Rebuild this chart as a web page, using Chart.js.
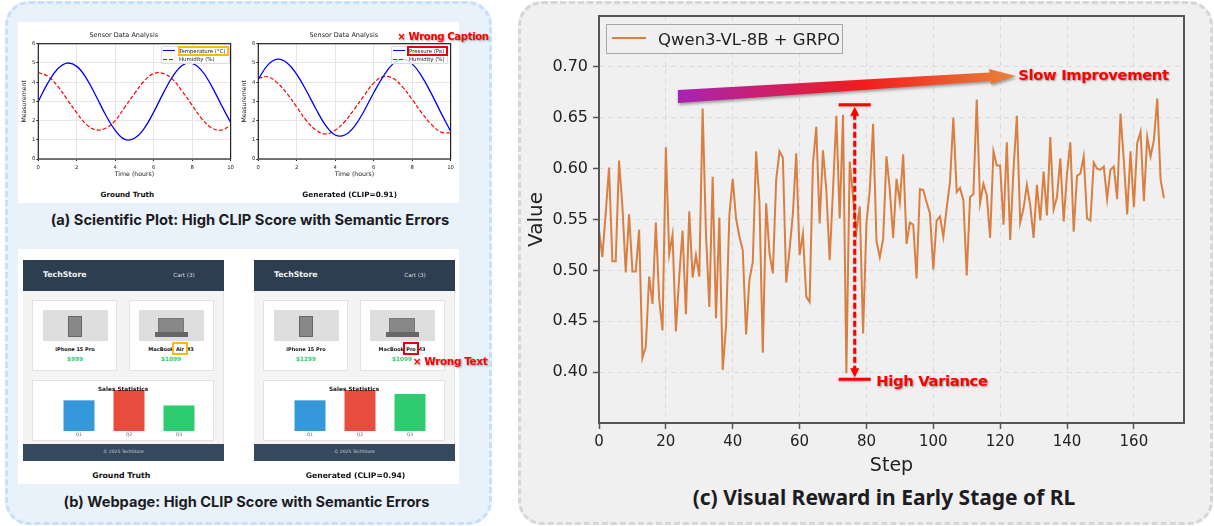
<!DOCTYPE html>
<html>
<head>
<meta charset="utf-8">
<title>Visual reward figure</title>
<script src="https://cdn.jsdelivr.net/npm/chart.js@4/dist/chart.umd.min.js"></script>
<style>
  html, body { margin: 0; padding: 0; background: #fff; }
  #page { position: relative; width: 1214px; height: 526px; overflow: hidden; font-family: "DejaVu Sans", sans-serif; }
  #page div { position: absolute; box-sizing: border-box; white-space: nowrap; }
  canvas { position: absolute; }
  .panel { border-radius: 24px; border-width: 3px; border-style: dashed; }
  .call { color: #f00; font-family: "DejaVu Sans", sans-serif; font-weight: 700; text-shadow: 1px 1px 2px rgba(0,0,0,.4); }
</style>
</head>
<body>
<div id="page"></div>
<script>
// panel (c)
const rewardValues = [
  .540,.513,.556,.601,.509,.509,.608,.563,.498,.555,.499,.499,.540,.414,.425,.494,.467,.547,.472,.441,
  .621,.516,.535,.440,.494,.539,.457,.558,.493,.515,.494,.659,.536,.464,.592,.453,.552,.402,.445,.554,
  .590,.551,.533,.520,.437,.491,.508,.617,.567,.419,.566,.517,.497,.589,.617,.611,.488,.520,.556,.615,
  .515,.536,.474,.469,.605,.641,.546,.618,.579,.510,.579,.652,.551,.653,.399,.607,.572,.538,.563,.438,
  .546,.579,.644,.529,.513,.531,.612,.579,.532,.590,.567,.614,.526,.547,.545,.492,.580,.579,.567,.556,
  .501,.549,.553,.533,.561,.587,.650,.577,.581,.569,.495,.572,.575,.668,.566,.585,.574,.532,.617,.603,
  .603,.545,.626,.530,.599,.652,.547,.561,.584,.564,.532,.584,.549,.597,.554,.631,.560,.572,.610,.548,
  .595,.626,.538,.593,.595,.612,.551,.549,.606,.600,.599,.602,.570,.599,.602,.570,.654,.608,.555,.617,
  .562,.625,.636,.568,.631,.612,.628,.669,.589,.571
];
const rewardSteps = rewardValues.map((v, i) => i);
const rewardXTicks = [0, 20, 40, 60, 80, 100, 120, 140, 160];
const rewardYTicks = [0.40, 0.45, 0.50, 0.55, 0.60, 0.65, 0.70];

// panel (a)
const hours = [0,.5,1,1.5,2,2.5,3,3.5,4,4.5,5,5.5,6,6.5,7,7.5,8,8.5,9,9.5,10];
const truthTemperature = [3,3.96,4.68,4.99,4.82,4.2,3.28,2.3,1.49,1.02,1.08,1.58,2.44,3.43,4.31,4.88,4.98,4.6,3.82,2.85,1.9];
const truthHumidity = [4.5,4.3,3.8,3.1,2.4,1.8,1.52,1.6,2,2.7,3.4,4.05,4.45,4.45,4.13,3.5,2.8,2.1,1.63,1.5,1.74];
const genPressure = [4.15,4.9,5.2,5,4.4,3.55,2.6,1.75,1.25,1.25,1.7,2.5,3.45,4.3,4.95,5.2,4.95,4.3,3.4,2.4,1.45];
const genHumidity = [4.2,4.28,3.95,3.4,2.7,2,1.5,1.3,1.5,1.95,2.6,3.3,3.95,4.28,4.2,3.75,3.1,2.4,1.8,1.4,1.35];

// panel (b)
const quarters = ['Q1', 'Q2', 'Q3'];
const truthSales = [120, 160, 100];
const genSales = [120, 160, 145];

const page = document.getElementById('page');

function box(x, y, w, h, css) {
  const d = document.createElement('div');
  d.style.cssText = `left:${x}px;top:${y}px;width:${w}px;height:${h}px;` + (css || '');
  page.appendChild(d);
  return d;
}

// text centred on x,y
function label(str, x, y, css, cls) {
  const d = document.createElement('div');
  d.textContent = str;
  d.style.cssText = `left:${x}px;top:${y}px;transform:translate(-50%,-50%);` + (css || '');
  if (cls) d.className = cls;
  page.appendChild(d);
  return d;
}

function addCanvas(x, y, w, h) {
  const c = document.createElement('canvas');
  c.width = w; c.height = h;
  c.style.left = x + 'px'; c.style.top = y + 'px';
  c.style.width = w + 'px'; c.style.height = h + 'px';
  page.appendChild(c);
  return c;
}

// top and right spines are not part of chart.js axes
const framePlugin = {
  id: 'frame',
  afterDatasetsDraw(chart, args, opts) {
    const a = chart.chartArea, ctx = chart.ctx;
    ctx.save();
    ctx.strokeStyle = opts.color;
    ctx.lineWidth = opts.width;
    ctx.strokeRect(a.left, a.top, a.right - a.left, a.bottom - a.top);
    ctx.restore();
  }
};

// the red notes on panel (c), placed with the chart's own scales
const notesPlugin = {
  id: 'notes',
  afterDatasetsDraw(chart) {
    const ctx = chart.ctx, sx = chart.scales.x, sy = chart.scales.y;
    const x0 = sx.getPixelForValue(23.6), y0 = sy.getPixelForValue(0.671);
    const x1 = sx.getPixelForValue(124.7), y1 = sy.getPixelForValue(0.691);
    ctx.save();
    const g = ctx.createLinearGradient(x0, y0, x1, y1);
    g.addColorStop(0, '#a823b4');
    g.addColorStop(0.55, '#f21c1c');
    g.addColorStop(1, '#e8843c');
    ctx.fillStyle = g;
    ctx.shadowColor = 'rgba(0,0,0,.35)';
    ctx.shadowBlur = 3;
    ctx.shadowOffsetX = 1;
    ctx.shadowOffsetY = 2;
    ctx.beginPath();
    ctx.moveTo(x0, y0 - 6.5);
    ctx.lineTo(x1 - 26, y1 - 3.5);
    ctx.lineTo(x1 - 27, y1 - 7);
    ctx.lineTo(x1, y1);
    ctx.lineTo(x1 - 25, y1 + 8);
    ctx.lineTo(x1 - 25, y1 + 5);
    ctx.lineTo(x0, y0 + 6.5);
    ctx.closePath();
    ctx.fill();

    const mx = sx.getPixelForValue(76.5), half = 16;
    const top = sy.getPixelForValue(0.6628), bot = sy.getPixelForValue(0.3931);
    ctx.shadowColor = 'rgba(0,0,0,.25)';
    ctx.shadowBlur = 2;
    ctx.shadowOffsetX = 0;
    ctx.shadowOffsetY = 1;
    ctx.strokeStyle = '#f00';
    ctx.fillStyle = '#f00';
    ctx.lineWidth = 3;
    ctx.beginPath();
    ctx.moveTo(mx - half, top); ctx.lineTo(mx + half, top);
    ctx.moveTo(mx - half, bot); ctx.lineTo(mx + half, bot);
    ctx.stroke();
    ctx.setLineDash([6, 3]);
    ctx.beginPath();
    ctx.moveTo(mx, top + 9); ctx.lineTo(mx, bot - 9);
    ctx.stroke();
    ctx.setLineDash([]);
    ctx.beginPath();
    ctx.moveTo(mx, top + 2); ctx.lineTo(mx + 4.5, top + 11); ctx.lineTo(mx - 4.5, top + 11); ctx.closePath();
    ctx.moveTo(mx, bot - 2); ctx.lineTo(mx + 4.5, bot - 11); ctx.lineTo(mx - 4.5, bot - 11); ctx.closePath();
    ctx.fill();
    ctx.restore();
  }
};

// ---- backgrounds ----
box(5, 1, 487, 524, 'background:#e9f2fb;border-color:#c9dff5;').className = 'panel';
box(518, 1, 695, 524, 'background:#f0f0f0;border-color:#d6d6d6;').className = 'panel';
box(18, 22, 441, 181, 'background:#fff;');
box(18, 249, 441, 235, 'background:#fff;');

const captionCss = 'font-family:Inter,sans-serif;font-weight:700;color:#1c1c22;';
label('(a) Scientific Plot: High CLIP Score with Semantic Errors', 250, 220, captionCss + 'font-size:14.7px;');
label('(b) Webpage: High CLIP Score with Semantic Errors', 246.5, 502, captionCss + 'font-size:14.6px;');

// ---- panel (a) ----
function sensorChart(left, series1, series2) {
  new Chart(addCanvas(left - 21.3 | 0, 22, 232, 162), {
    type: 'line',
    data: {
      labels: hours,
      datasets: [
        { data: series1, borderColor: '#0000ff', borderWidth: 1.3, pointRadius: 0, tension: 0.4 },
        { data: series2, borderColor: '#ff0000', borderWidth: 1.2, borderDash: [4, 2], pointRadius: 0, tension: 0.4 }
      ].map(d => ({ ...d, parsing: false, data: hours.map((h, i) => ({ x: h, y: d.data[i] })) }))
    },
    options: {
      responsive: false,
      animation: false,
      layout: { padding: { right: 232 - 21.3 - 192.3 } },
      plugins: {
        legend: { display: false },
        tooltip: { enabled: false },
        title: { display: true, text: 'Sensor Data Analysis', color: '#222', font: { family: 'DejaVu Sans', size: 6.5, weight: 'normal' }, padding: { top: 9, bottom: 4.9 } },
        frame: { color: '#222', width: 1.2 }
      },
      scales: {
        x: {
          type: 'linear', min: 0, max: 10,
          afterBuildTicks: a => { a.ticks = [0, 2, 4, 6, 8, 10].map(v => ({ value: v })); },
          afterFit: a => { a.height = 25; },
          grid: { color: '#e6e6e6', tickColor: '#222', tickLength: 2 },
          border: { display: false },
          ticks: { color: '#222', padding: 3, maxRotation: 0, font: { family: 'DejaVu Sans', size: 5.3 } },
          title: { display: true, text: 'Time (hours)', color: '#222', padding: { top: 1, bottom: 6 }, font: { family: 'DejaVu Sans', size: 6.2 } }
        },
        y: {
          min: 0, max: 6,
          afterFit: a => { a.width = 21.3; },
          grid: { color: '#e6e6e6', tickColor: '#222', tickLength: 2 },
          border: { display: false },
          ticks: { stepSize: 1, color: '#222', padding: 1, font: { family: 'DejaVu Sans', size: 5.3 } },
          title: { display: true, text: 'Measurement', color: '#222', padding: { top: 3.5, bottom: 1 }, font: { family: 'DejaVu Sans', size: 6.2 } }
        }
      }
    },
    plugins: [framePlugin]
  });
}
sensorChart(39.3, truthTemperature, truthHumidity);
sensorChart(258.7, genPressure, genHumidity);

function sensorLegend(x, w, name, boxColor, boxX, boxW) {
  const small = 'font-size:5.4px;color:#222;';
  box(x, 46, w, 18, 'background:rgba(255,255,255,.8);border:1px solid #ddd;border-radius:1px;');
  box(x + 2, 50, 12, 1.4, 'background:#0000ff;');
  box(x + 2, 58.6, 12, 1.3, 'background:repeating-linear-gradient(90deg,#f00 0 4px,transparent 4px 6px);');
  label(name, x + 18, 51, small + 'transform:translate(0,-50%);');
  label('Humidity (%)', x + 18, 59.2, small + 'transform:translate(0,-50%);');
  box(boxX, 45.5, boxW, 10.7, `border:2px solid ${boxColor};`);
}
sensorLegend(161, 68.5, 'Temperature (°C)', '#fbb714', 177.5, 51.5);
sensorLegend(391, 57, 'Pressure (Pa)', '#e8000c', 406.7, 41);

label('Ground Truth', 127.3, 194, 'font-size:7.2px;font-weight:700;color:#111;');
label('Generated (CLIP=0.91)', 349.7, 194, 'font-size:7.3px;font-weight:700;color:#111;');
label('× Wrong Caption', 443, 36, 'font-size:10.1px;letter-spacing:-.35px;', 'call');

// ---- panel (b) ----
function storePage(dx, iphonePrice, macWord, macPrice, sales, hiColor) {
  box(23 + dx, 260, 201, 201, 'background:#f4f4f4;');
  box(222.7 + dx, 291, 1.3, 153, 'background:#e4e4e4;');
  box(23 + dx, 260, 201, 31, 'background:#2c3e50;');
  box(23 + dx, 444, 201, 17, 'background:#34495e;');
  label('TechStore', 64.8 + dx, 274, 'font-size:7.8px;font-weight:700;color:#f2f2f2;');
  label('Cart (3)', 184 + dx, 274.5, 'font-size:5.6px;color:#d8dde2;');
  label('© 2025 TechStore', 123.3 + dx, 451, 'font-size:4.5px;color:#cfd5da;');

  const card = 'background:#fff;border:1px solid #e2e2e2;';
  box(32.3 + dx, 300, 85, 70.7, card);
  box(128.7 + dx, 300, 85, 70.7, card);
  box(43 + dx, 310, 65, 31, 'background:#dedede;');
  box(139 + dx, 310, 65, 31, 'background:#dedede;');
  box(68.3 + dx, 316, 13.4, 21, 'background:#888;border:1px solid #666;');
  box(158.3 + dx, 318, 25.7, 14.5, 'background:#888;border:1px solid #777;');
  box(155 + dx, 332, 33, 5, 'background:#666;');

  label('iPhone 15 Pro', 75 + dx, 348.7, 'font-size:5px;font-weight:700;color:#111;');
  label(iphonePrice, 75 + dx, 358.7, 'font-size:5.8px;font-weight:700;color:#2ecc71;');
  label(`MacBook ${macWord} M3`, 171 + dx, 348.7, 'font-size:5px;font-weight:700;color:#111;');
  label(macPrice, 171 + dx, 358.7, 'font-size:5.8px;font-weight:700;color:#2ecc71;');
  box(172 + dx, 342.3, 16, 13, `background:#fff;border:2px solid ${hiColor};`);
  label(macWord, 180 + dx, 348.7, 'font-size:5px;font-weight:700;color:#111;');

  box(32.3 + dx, 380, 181.4, 60.7, card);
  new Chart(addCanvas(53.5 + dx, 385, 150, 53), {
    type: 'bar',
    data: {
      labels: quarters,
      datasets: [{ data: sales, backgroundColor: ['#3498db', '#e74c3c', '#2ecc71'], categoryPercentage: 1, barPercentage: 0.62 }]
    },
    options: {
      responsive: false,
      animation: false,
      plugins: { legend: { display: false }, tooltip: { enabled: false } },
      scales: {
        x: {
          afterFit: a => { a.height = 7; },
          grid: { display: false, drawTicks: false },
          border: { display: false },
          ticks: { color: '#666', padding: 1, font: { family: 'DejaVu Sans', size: 4.6 } }
        },
        y: { display: false, min: 0, max: 180 }
      }
    }
  });
  label('Sales Statistics', 123 + dx, 388.5, 'font-size:5.8px;font-weight:700;color:#111;');
}
storePage(0, '$999', 'Air', '$1099', truthSales, '#fbb714');
storePage(231, '$1299', 'Pro', '$1099', genSales, '#e8000c');

label('Ground Truth', 121.3, 475, 'font-size:7.8px;font-weight:700;color:#111;');
label('Generated (CLIP=0.94)', 355.5, 475, 'font-size:7.7px;font-weight:700;color:#111;');
label('× Wrong Text', 450, 361, 'font-size:10.4px;letter-spacing:-.35px;', 'call');

// ---- panel (c) ----
new Chart(addCanvas(520, 0, 692, 480), {
  type: 'line',
  data: {
    datasets: [{
      label: 'Qwen3-VL-8B + GRPO',
      data: rewardSteps.map((s, i) => ({ x: s, y: rewardValues[i] })),
      borderColor: '#d97f42',
      borderWidth: 2,
      pointRadius: 0,
      tension: 0
    }]
  },
  options: {
    responsive: false,
    animation: false,
    layout: { padding: { top: 16, right: 28 } },
    plugins: {
      legend: { display: false },
      tooltip: { enabled: false },
      frame: { color: '#555', width: 2 }
    },
    scales: {
      x: {
        type: 'linear', min: 0, max: 175,
        afterBuildTicks: a => { a.ticks = rewardXTicks.map(v => ({ value: v })); },
        afterFit: a => { a.height = 57; },
        grid: { color: '#dcdcdc', tickColor: '#555', tickLength: 6, tickWidth: 1.5 },
        border: { display: false, dash: [5, 4] },
        ticks: { color: '#222', padding: 4, maxRotation: 0, font: { family: 'DejaVu Sans', size: 15 } },
        title: { display: true, text: 'Step', color: '#222', padding: { top: 3, bottom: 3 }, font: { family: 'DejaVu Sans', size: 19 } }
      },
      y: {
        min: 0.35, max: 0.75,
        afterBuildTicks: a => { a.ticks = rewardYTicks.map(v => ({ value: v })); },
        afterFit: a => { a.width = 79; },
        grid: { color: '#dcdcdc', tickColor: '#555', tickLength: 6, tickWidth: 1.5 },
        border: { display: false, dash: [5, 4] },
        ticks: { color: '#222', padding: 5, font: { family: 'DejaVu Sans', size: 16 }, callback: v => v.toFixed(2) },
        title: { display: true, text: 'Value', color: '#222', padding: { top: 5, bottom: 4 }, font: { family: 'DejaVu Sans', size: 20 } }
      }
    }
  },
  plugins: [framePlugin, notesPlugin]
});

box(606, 24, 237, 30, 'background:rgba(240,240,240,.8);border:1.5px solid #a8a8a8;');
box(612, 37, 34, 2, 'background:#d97f42;');
label('Qwen3-VL-8B + GRPO', 658, 38.5, 'font-size:16.5px;color:#222;transform:translate(0,-50%);');

label('Slow Improvement', 1093.5, 74, 'font-size:14.7px;letter-spacing:-.3px;', 'call');
label('High Variance', 932, 380, 'font-size:14.7px;letter-spacing:-.3px;', 'call');
label('(c) Visual Reward in Early Stage of RL', 884, 497, 'font-family:"Noto Sans",sans-serif;font-weight:700;font-size:21px;color:#1c1c22;');
</script>
</body>
</html>
